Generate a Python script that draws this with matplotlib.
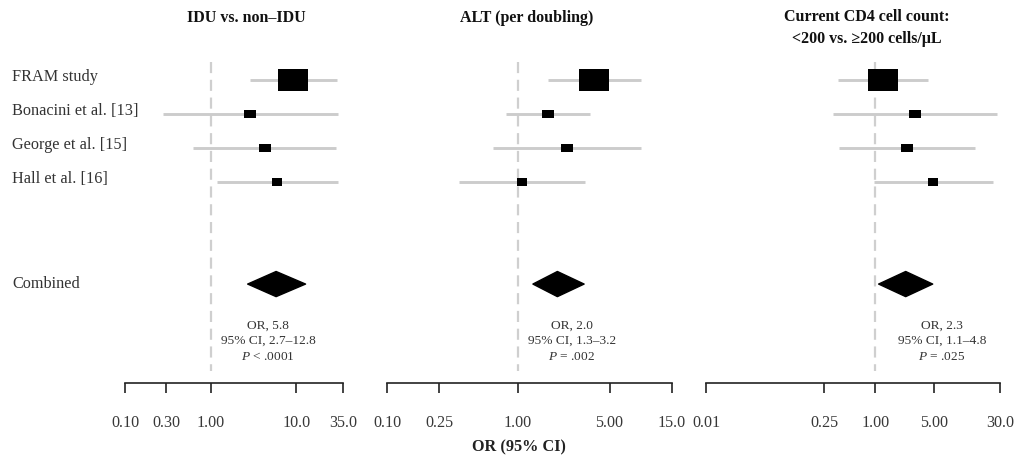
import numpy as np
import matplotlib
matplotlib.use("Agg")
import matplotlib.pyplot as plt
from matplotlib.patches import Polygon
from matplotlib.transforms import blended_transform_factory

plt.rcParams['font.family'] = ['Liberation Serif', 'DejaVu Serif']
plt.rcParams['mathtext.fontset'] = 'custom'
plt.rcParams['mathtext.rm'] = 'Liberation Serif'
plt.rcParams['mathtext.it'] = 'Liberation Serif:italic'

# ---------------- data ----------------
studies = ["FRAM study", "Bonacini et al. [13]", "George et al. [15]", "Hall et al. [16]"]
combined_label = "Combined"

titles = ["IDU vs. non\u2013IDU", "ALT (per doubling)",
          "Current CD4 cell count:\n<200 vs. \u2265200 cells/\u03bcL"]

# study estimates (OR, lower, upper) per panel
idu_or = [9.1, 2.85, 4.3, 6.0]
idu_lo = [2.85, 0.28, 0.63, 1.17]
idu_hi = [30.0, 30.5, 29.0, 30.5]

alt_or = [3.8, 1.70, 2.38, 1.08]
alt_lo = [1.70, 0.81, 0.65, 0.355]
alt_hi = [8.7, 3.55, 8.7, 3.26]

cd4_or = [1.23, 3.0, 2.37, 4.86]
cd4_lo = [0.36, 0.32, 0.375, 0.97]
cd4_hi = [4.24, 27.8, 15.2, 25.1]

# combined estimates
comb_or = [5.8, 2.0, 2.3]
comb_lo = [2.7, 1.3, 1.1]
comb_hi = [12.8, 3.2, 4.8]
p_text = ["< .0001", "= .002", "= .025"]

# axis ticks
ticks_1 = [0.10, 0.30, 1.00, 10.0, 35.0]
ticklabels_1 = ["0.10", "0.30", "1.00", "10.0", "35.0"]
ticks_2 = [0.10, 0.25, 1.00, 5.00, 15.0]
ticklabels_2 = ["0.10", "0.25", "1.00", "5.00", "15.0"]
ticks_3 = [0.01, 0.25, 1.00, 5.00, 30.0]
ticklabels_3 = ["0.01", "0.25", "1.00", "5.00", "30.0"]

# ---------------- styles / layout ----------------
W, H = 1019, 458
panel_px = [(125, 343), (387, 672), (706, 1000)]   # left/right pixel edges
ax_top_px, ax_bot_px = 60, 383
marker_w = [21, 8.7, 8.2, 7.5]          # marker width (pt)
marker_aspect = [0.76, 0.68, 0.7, 0.7]  # height / width
note_x = [4.7, 2.58, 6.2]               # x position of annotation (data)
title_x_px = [246, 527, 867]
row_y = [0, 1, 2, 3]
comb_y = 6

gray_ci = "#cccccc"
txt_col = "#333333"

fig = plt.figure(figsize=(W / 100, H / 100), dpi=100)

panels = [
    (idu_or, idu_lo, idu_hi, ticks_1, ticklabels_1),
    (alt_or, alt_lo, alt_hi, ticks_2, ticklabels_2),
    (cd4_or, cd4_lo, cd4_hi, ticks_3, ticklabels_3),
]

axes = []
for i, (ors, los, his, tks, tls) in enumerate(panels):
    l, r = panel_px[i]
    ax = fig.add_axes([l / W, 1 - ax_bot_px / H, (r - l) / W, (ax_bot_px - ax_top_px) / H])
    axes.append(ax)
    ax.set_xscale('log')
    ax.set_xlim(tks[0], tks[-1])
    ax.set_ylim(8.91, -0.59)
    ax.patch.set_visible(False)
    for s in ['top', 'left', 'right']:
        ax.spines[s].set_visible(False)
    ax.spines['bottom'].set_color('#222222')
    ax.spines['bottom'].set_linewidth(1.2)
    ax.set_yticks([])
    ax.set_xticks(tks)
    ax.set_xticklabels(tls)
    ax.minorticks_off()
    ax.tick_params(axis='x', direction='out', length=7, width=1.2, color='#222222',
                   pad=16, labelsize=11.6, labelcolor='#383838')

    # reference line at OR = 1
    ax.plot([1, 1], [-0.53, 8.55], color='#cfcfcf', lw=1.6, ls=(0, (5, 3)), zorder=1)

    # studies
    for j in range(len(studies)):
        ax.plot([los[j], his[j]], [row_y[j], row_y[j]], color=gray_ci, lw=2.1,
                solid_capstyle='butt', zorder=2)
        a = marker_aspect[j]
        verts = [(-0.5, -0.5 * a), (0.5, -0.5 * a), (0.5, 0.5 * a), (-0.5, 0.5 * a), (-0.5, -0.5 * a)]
        ax.plot([ors[j]], [row_y[j]], marker=verts, markersize=marker_w[j],
                color='black', markeredgewidth=0, zorder=3)

    # combined diamond
    h = 0.37
    dia = Polygon([(comb_lo[i], comb_y), (comb_or[i], comb_y - h),
                   (comb_hi[i], comb_y), (comb_or[i], comb_y + h)],
                  closed=True, facecolor='black', edgecolor='black', lw=1.0,
                  joinstyle='round', zorder=3)
    ax.add_patch(dia)

    # annotation
    nx = note_x[i]
    ax.text(nx, 7.24, f"OR, {comb_or[i]:.1f}", ha='center', va='center', fontsize=9.6, color=txt_col)
    ax.text(nx, 7.68, f"95% CI, {comb_lo[i]:.1f}\u2013{comb_hi[i]:.1f}", ha='center', va='center',
            fontsize=9.6, color=txt_col)
    ax.text(nx, 8.15, r"$\it{P}$ " + p_text[i], ha='center', va='center', fontsize=9.6, color=txt_col)

    # title
    fig.text(title_x_px[i] / W, 1 - 28 / H if i == 2 else 1 - 18 / H, titles[i],
             ha='center', va='center', fontsize=11.5, fontweight='bold', color='#111111',
             linespacing=1.45)

# row labels
tr = blended_transform_factory(fig.transFigure, axes[0].transData)
for j, lab in enumerate(studies):
    axes[0].text(12 / W, row_y[j] - 0.1, lab, transform=tr, ha='left', va='center',
                 fontsize=11.7, color=txt_col)
axes[0].text(12 / W, comb_y, combined_label, transform=tr, ha='left', va='center',
             fontsize=11.7, color=txt_col)

fig.text(519 / W, 1 - 447 / H, "OR (95% CI)", ha='center', va='center', fontsize=11.7,
         fontweight='bold', color='#222222')

fig.savefig("out.png", dpi=100)
